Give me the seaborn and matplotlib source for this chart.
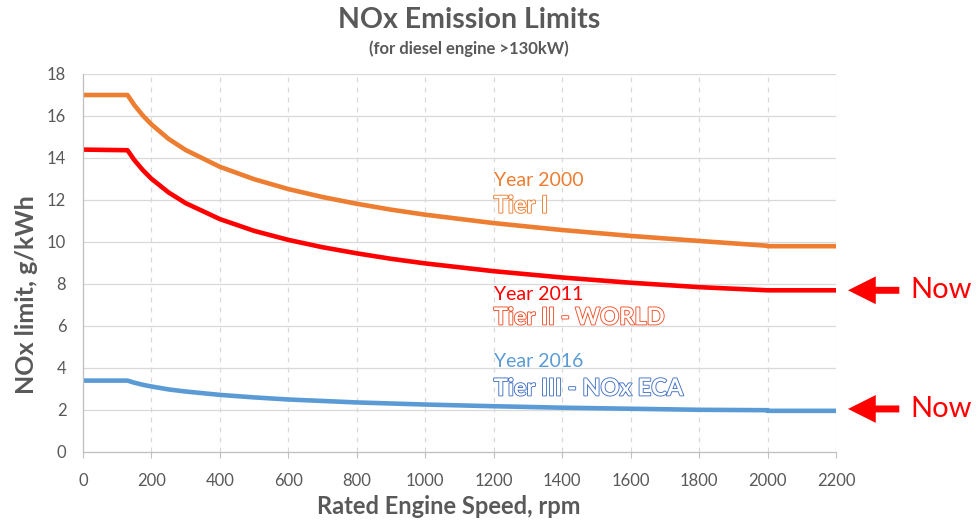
import matplotlib
matplotlib.use("Agg")
import matplotlib.pyplot as plt
import matplotlib.patheffects as pe
import seaborn as sns
import pandas as pd

# ---- data ----
speed = [0, 130, 150, 175, 200, 250, 300, 400, 500, 600, 700, 800, 900,
         1000, 1200, 1400, 1600, 1800, 2000, 2000, 2200]
tier1 = [17.0, 17.0, 16.52, 16.02, 15.60, 14.91, 14.38, 13.58, 12.99, 12.52,
         12.14, 11.82, 11.54, 11.30, 10.90, 10.57, 10.29, 10.05, 9.82, 9.8, 9.8]
tier2 = [14.4, 14.37, 13.90, 13.42, 13.01, 12.36, 11.85, 11.09, 10.53, 10.10,
         9.75, 9.46, 9.20, 8.98, 8.61, 8.31, 8.06, 7.85, 7.70, 7.7, 7.7]
tier3 = [3.4, 3.40, 3.30, 3.20, 3.12, 2.98, 2.88, 2.72, 2.60, 2.50,
         2.43, 2.36, 2.31, 2.26, 2.18, 2.11, 2.06, 2.01, 1.99, 1.96, 1.96]
series_names = ["Tier I", "Tier II", "Tier III"]
x_ticks = list(range(0, 2201, 200))
y_ticks = list(range(0, 19, 2))

title = "NOx Emission Limits"
subtitle = "(for diesel engine >130kW)"
x_label = "Rated Engine Speed, rpm"
y_label = "NOx limit, g/kWh"

C_ORANGE = "#ED7D31"
C_RED = "#FF0000"
C_BLUE = "#5B9BD5"
C_GREY = "#595959"

rows = []
for name, vals in zip(series_names, [tier1, tier2, tier3]):
    for i, (s, v) in enumerate(zip(speed, vals)):
        rows.append({"speed": s, "limit": v, "tier": name, "order": i})
df = pd.DataFrame(rows)

sns.set_theme(style="white")
plt.rcParams["font.family"] = ["Lato", "DejaVu Sans"]

fig = plt.figure(figsize=(9.8, 5.21), dpi=100)
ax = fig.add_axes([83 / 980, 1 - 452 / 521, (836 - 83) / 980, (452 - 74) / 521])

sns.lineplot(data=df, x="speed", y="limit", hue="tier", units="tier",
             estimator=None, sort=False, ax=ax,
             palette={"Tier I": C_ORANGE, "Tier II": C_RED, "Tier III": C_BLUE},
             linewidth=3.3, legend=False)
for ln in ax.get_lines():
    ln.set_solid_joinstyle("round")
    ln.set_solid_capstyle("butt")

ax.set_xlim(0, 2200)
ax.set_ylim(0, 18)
ax.set_xticks(x_ticks)
ax.set_yticks(y_ticks)
ax.tick_params(axis="x", colors="#BFBFBF", labelcolor=C_GREY, labelsize=12,
               length=4, width=0.8, direction="out", pad=11, bottom=True)
ax.tick_params(axis="y", labelcolor=C_GREY, labelsize=12, length=0, pad=12)

ax.grid(False)
for y in y_ticks[1:]:
    ax.axhline(y, color="#D9D9D9", lw=0.9, zorder=0)
for x in x_ticks[1:]:
    ax.axvline(x, color="#D9D9D9", lw=0.9, ls=(0, (4, 4)), zorder=0)

for side in ["top", "right"]:
    ax.spines[side].set_visible(False)
for side in ["left", "bottom"]:
    ax.spines[side].set_color("#BFBFBF")
    ax.spines[side].set_linewidth(0.9)

ax.set_xlabel("")
ax.set_ylabel("")
fig.text(449 / 980, 1 - 506 / 521, x_label, ha="center", va="center",
         fontsize=17, fontweight="bold", color=C_GREY)
fig.text(27 / 980, 1 - 295 / 521, y_label, rotation=90, ha="center", va="center",
         fontsize=18, fontweight="bold", color=C_GREY)

fig.text(469 / 980, 1 - 20 / 521, title, ha="center", va="center",
         fontsize=20.5, fontweight="bold", color=C_GREY)
fig.text(469 / 980, 1 - 49 / 521, subtitle, ha="center", va="center",
         fontsize=12, fontweight="bold", color=C_GREY)

# series annotations
def outlined(x, y, s, edge):
    ax.text(x, y, s, fontsize=17, fontweight="bold", color="white",
            ha="left", va="center",
            path_effects=[pe.withStroke(linewidth=1.3, foreground=edge)])

ax.text(1200, 12.95, "Year 2000", fontsize=14, color=C_ORANGE, ha="left", va="center")
outlined(1200, 11.75, "Tier I", C_ORANGE)
ax.text(1200, 7.52, "Year 2011", fontsize=14, color=C_RED, ha="left", va="center")
outlined(1200, 6.43, "Tier II - WORLD", "#F0502A")
ax.text(1200, 4.33, "Year 2016", fontsize=14, color=C_BLUE, ha="left", va="center")
outlined(1200, 3.05, "Tier III - NOx ECA", "#4472C4")

# "Now" arrows
for yv in [7.7, 2.05]:
    ax.annotate("", xy=(2235, yv), xytext=(2385, yv), xycoords="data",
                annotation_clip=False,
                arrowprops=dict(arrowstyle="simple,head_length=1.0,head_width=1.0,tail_width=0.25",
                                mutation_scale=20, color=C_RED, shrinkA=0, shrinkB=0, lw=0))
    ax.text(2416, yv, "Now", fontsize=21, color=C_RED, ha="left", va="center",
            clip_on=False)

fig.savefig("out.png", dpi=100)
